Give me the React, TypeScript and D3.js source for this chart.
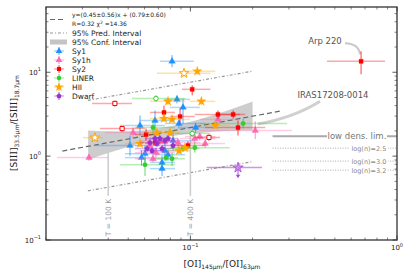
import * as d3 from "d3";

// [x, y, xlo, xhi, ylo, yhi, open]
type Pt = [number, number, number, number, number, number, number?];

const sy1: Pt[] = [
  [0.0815, 13.5, 0.0712, 0.104, 11.5, 16.0],
  [0.0861, 4.75, 0.0753, 0.0995, 4.25, 5.3],
  [0.0921, 3.81, 0.0796, 0.111, 2.4, 4.8],
  [0.0674, 2.66, 0.057, 0.0842, 2.02, 3.5],
  [0.057, 2.32, 0.0456, 0.0753, 1.76, 3.05],
  [0.088, 2.45, 0.0753, 0.118, 2.13, 2.75],
  [0.106, 2.19, 0.0891, 0.132, 1.9, 2.5],
  [0.051, 1.34, 0.0345, 0.0712, 1.01, 1.76],
  [0.0824, 1.53, 0.0674, 0.105, 1.16, 2.02],
  [0.0603, 1.07, 0.0482, 0.0712, 0.84, 1.34],
  [0.0753, 1.16, 0.0637, 0.0891, 0.88, 1.53],
  [0.0729, 0.84, 0.0637, 0.0842, 0.67, 1.01],
  [0.0779, 1.04, 0.0674, 0.0941, 0.88, 1.2],
  [0.058, 0.96, 0.0482, 0.0674, 0.77, 1.16],
  [0.0729, 0.71, 0.0637, 0.0842, 0.58, 0.84],
];

const sy1h: Pt[] = [
  [0.0323, 0.96, 0.0226, 0.0399, 0.88, 1.05],
  [0.0528, 1.91, 0.0386, 0.0712, 1.62, 2.2],
  [0.0637, 1.34, 0.0539, 0.0842, 1.16, 1.53],
  [0.0712, 1.53, 0.057, 0.0891, 1.34, 1.76],
  [0.0871, 1.45, 0.0712, 0.111, 1.26, 1.62],
  [0.105, 1.62, 0.0891, 0.132, 1.45, 1.85],
  [0.118, 1.41, 0.0995, 0.147, 1.26, 1.6],
  [0.0681, 1.1, 0.0539, 0.0842, 0.96, 1.26],
  [0.136, 2.74, 0.111, 0.174, 2.45, 3.1],
  [0.206, 2.02, 0.111, 0.31, 1.6, 2.6],
  [0.111, 1.71, 0.0941, 0.132, 1.53, 1.9],
  [0.0659, 0.93, 0.0539, 0.0796, 0.84, 1.04],
];

const sy2: Pt[] = [
  [0.67, 13.5, 0.458, 0.875, 9.46, 17.8],
  [0.102, 6.26, 0.091, 0.125, 5.3, 6.99],
  [0.0745, 3.32, 0.0637, 0.0842, 2.66, 4.0],
  [0.0891, 2.97, 0.0796, 0.105, 2.52, 3.7],
  [0.061, 1.81, 0.0539, 0.0712, 1.53, 2.13],
  [0.136, 3.14, 0.105, 0.174, 2.8, 3.5],
  [0.161, 3.14, 0.132, 0.184, 2.8, 3.5],
  [0.17, 2.19, 0.118, 0.23, 1.76, 2.66],
  [0.0973, 1.34, 0.0842, 0.118, 1.2, 1.5],
  [0.0431, 4.25, 0.0334, 0.0521, 3.9, 4.6, 1],
  [0.0467, 2.13, 0.0365, 0.0603, 1.95, 2.3, 1],
  [0.123, 1.67, 0.105, 0.139, 1.52, 1.82, 1],
  [0.0674, 1.45, 0.0603, 0.0779, 1.32, 1.58],
];

const liner: Pt[] = [
  [0.0681, 4.87, 0.0521, 0.0941, 4.45, 5.3, 1],
  [0.0659, 2.19, 0.0539, 0.0842, 1.76, 2.66],
  [0.102, 1.86, 0.0842, 0.125, 1.7, 2.03, 1],
  [0.105, 1.26, 0.0796, 0.155, 1.1, 1.45],
  [0.0921, 1.23, 0.0753, 0.111, 1.12, 1.35],
  [0.0815, 0.93, 0.0674, 0.0941, 0.77, 1.1],
  [0.0603, 0.79, 0.0456, 0.0842, 0.58, 0.96],
  [0.0762, 0.96, 0.0674, 0.0871, 0.87, 1.05],
  [0.18, 2.45, 0.111, 0.294, 2.13, 2.8],
];

const hii: Pt[] = [
  [0.0931, 9.73, 0.0689, 0.125, 8.9, 10.6, 1],
  [0.108, 10.3, 0.0941, 0.132, 9.4, 11.2],
  [0.0779, 4.5, 0.0637, 0.0941, 4.1, 4.9],
  [0.113, 4.5, 0.0995, 0.132, 4.1, 4.9],
  [0.0745, 2.81, 0.0637, 0.0891, 2.56, 3.08],
  [0.0815, 2.74, 0.0712, 0.0995, 2.5, 3.0],
  [0.0345, 1.66, 0.0302, 0.0377, 1.52, 1.82, 1],
  [0.0689, 1.91, 0.0603, 0.0796, 1.74, 2.09],
  [0.0796, 1.91, 0.0712, 0.0891, 1.74, 2.09],
  [0.0881, 1.16, 0.0779, 0.0995, 1.06, 1.27],
  [0.0941, 1.26, 0.0842, 0.105, 1.15, 1.38],
  [0.132, 2.32, 0.111, 0.155, 2.12, 2.54],
  [0.057, 1.41, 0.0482, 0.0674, 1.29, 1.54],
];

const dwarf: Pt[] = [
  [0.0753, 1.53, 0.0674, 0.0842, 1.4, 1.67],
  [0.0637, 1.45, 0.057, 0.0712, 1.32, 1.59],
  [0.0674, 1.62, 0.0603, 0.0753, 1.48, 1.77],
  [0.0779, 1.62, 0.0689, 0.0871, 1.48, 1.77],
  [0.0729, 1.23, 0.0637, 0.0815, 1.12, 1.35],
  [0.0652, 1.16, 0.057, 0.0729, 1.06, 1.27],
  [0.0712, 1.62, 0.0637, 0.0796, 1.48, 1.77],
  [0.0824, 1.34, 0.0729, 0.0921, 1.22, 1.47],
  [0.0617, 1.23, 0.0539, 0.0689, 1.12, 1.35],
  [0.0689, 1.41, 0.0603, 0.0779, 1.29, 1.54],
];
// upper limit
const dwarfLimit: Pt = [0.17, 0.73, 0.12, 0.222, 0.553, 0.73];

const classNames = ["Sy1", "Sy1h", "Sy2", "LINER", "HII", "Dwarf"];
const classColors = ["#1e90ff", "#ff69b4", "#ff0000", "#32cd32", "#ffa500", "#9932cc"];
const classData = [sy1, sy1h, sy2, liner, hii, dwarf];

// fit line (legend equation), prediction & confidence intervals
const fitLine: [number, number][] = [[0.024, 1.15], [0.277, 3.47]];
const predUpper: [number, number][] = [[0.0319, 4.62], [0.2, 10.3]];
const predLower: [number, number][] = [[0.0319, 0.386], [0.2, 0.86]];
const confX = [0.032, 0.045, 0.06, 0.08, 0.11, 0.15, 0.2];
const confLo = [0.91, 1.19, 1.48, 1.73, 1.89, 2.0, 2.02];
const confHi = [2.02, 1.97, 2.04, 2.27, 2.73, 3.47, 4.47];

const densLines = [
  { label: "log(n)=2.5", y: 1.245 },
  { label: "log(n)=3.0", y: 0.872 },
  { label: "log(n)=3.2", y: 0.681 },
];
const lowDensY = 1.73;
const tempLines = [
  { label: "T = 100 K", x: 0.04, top: 1.26 },
  { label: "T = 400 K", x: 0.1, top: 2.13 },
];

const xMajor = [0.1, 1];
const xMinor = [0.02, 0.03, 0.04, 0.05, 0.06, 0.07, 0.08, 0.09, 0.2, 0.3, 0.4, 0.5, 0.6, 0.7, 0.8, 0.9];
const yMajor = [0.1, 1, 10];
const yMinor = [0.2, 0.3, 0.4, 0.5, 0.6, 0.7, 0.8, 0.9, 2, 3, 4, 5, 6, 7, 8, 9, 20, 30, 40, 50];

const W = 411;
const H = 280;
const x = d3.scaleLog().domain([0.02, 1]).range([46, 397]);
const y = d3.scaleLog().domain([0.1, 60]).range([240, 7]);
const font = "DejaVu Sans, sans-serif";

function pentagon(r: number) {
  const pts = d3.range(5).map((i) => {
    const a = -Math.PI / 2 + (i * 2 * Math.PI) / 5;
    return [r * Math.cos(a), r * Math.sin(a)];
  });
  return "M" + pts.map((p) => p.join(",")).join("L") + "Z";
}

function markerPath(ci: number) {
  const sym = d3.symbol();
  if (ci === 0 || ci === 1) return sym.type(d3.symbolTriangle).size(19)()!;
  if (ci === 2) return sym.type(d3.symbolSquare).size(17)()!;
  if (ci === 3) return sym.type(d3.symbolCircle).size(16)()!;
  if (ci === 4) return sym.type(d3.symbolStar).size(28)()!;
  return pentagon(2.7);
}

function Point({ p, ci }: { p: Pt; ci: number }) {
  const c = classColors[ci];
  const px = x(p[0]);
  const py = y(p[1]);
  const open = p[6] === 1;
  return (
    <g>
      <line x1={x(p[2])} x2={x(p[3])} y1={py} y2={py} stroke={c} strokeOpacity={0.35} strokeWidth={1.5} />
      <line x1={px} x2={px} y1={y(p[4])} y2={y(p[5])} stroke={c} strokeOpacity={0.75} strokeWidth={1} />
      <path
        d={markerPath(ci)}
        transform={`translate(${px},${py})`}
        fill={open ? "white" : c}
        stroke={c}
        strokeWidth={open ? 1 : 0.3}
      />
    </g>
  );
}

function Pow({ x: tx, y: ty, exp, anchor }: { x: number; y: number; exp: string; anchor: string }) {
  return (
    <text x={tx} y={ty} fontSize={7} fill="#222" textAnchor={anchor} fontFamily={font}>
      10
      <tspan fontSize={5} dy={-3.5}>{exp}</tspan>
    </text>
  );
}

export default function App() {
  const line = d3
    .line<[number, number]>()
    .x((d) => x(d[0]))
    .y((d) => y(d[1]));
  const band = d3
    .area<number>()
    .x((_, i) => x(confX[i]))
    .y0((_, i) => y(confLo[i]))
    .y1((_, i) => y(confHi[i]))
    .curve(d3.curveMonotoneX);

  const legendRows = classNames.map((n, i) => ({ n, i, yy: 51 + i * 9 }));

  return (
    <svg width={W} height={H} style={{ position: "absolute", left: 0, top: 0, background: "white" }} fontFamily={font}>
      {/* confidence band */}
      <path d={band(confX)!} fill="#c4c4c4" opacity={0.85} />
      {/* prediction interval */}
      <path d={line(predUpper)!} fill="none" stroke="#999" strokeWidth={1.2} strokeDasharray="3,2,1,2" />
      <path d={line(predLower)!} fill="none" stroke="#999" strokeWidth={1.2} strokeDasharray="3,2,1,2" />
      {/* fit */}
      <path d={line(fitLine)!} fill="none" stroke="#666" strokeWidth={1.2} strokeDasharray="5,3" />

      {/* temperature lines */}
      {tempLines.map((t) => (
        <g key={t.label}>
          <line x1={x(t.x)} x2={x(t.x)} y1={y(t.top)} y2={y(0.336)} stroke="#ccc" strokeWidth={1.5} />
          <text
            transform={`translate(${x(t.x) + 2.5},${y(0.111)}) rotate(-90)`}
            fontSize={7.5}
            fill="#999"
          >
            {t.label}
          </text>
        </g>
      ))}

      {/* density lines */}
      <line x1={x(0.25)} x2={397} y1={y(lowDensY)} y2={y(lowDensY)} stroke="#aaa" strokeWidth={2} />
      <rect x={x(0.64) - 30} y={y(lowDensY) - 5} width={60} height={10} fill="white" />
      <text x={x(0.64)} y={y(lowDensY) + 3} fontSize={8.5} fill="#777" textAnchor="middle">
        low dens. lim.
      </text>
      {densLines.map((d) => (
        <g key={d.label}>
          <line x1={x(0.25)} x2={397} y1={y(d.y)} y2={y(d.y)} stroke="#aaa" strokeWidth={1} strokeDasharray="1,1.5" />
          <rect x={x(0.731) - 19} y={y(d.y) - 4} width={38} height={8} fill="white" />
          <text x={x(0.731)} y={y(d.y) + 2.5} fontSize={6.5} fill="#888" textAnchor="middle">
            {d.label}
          </text>
        </g>
      ))}

      {/* annotations */}
      <path
        d={`M${x(0.56)},${y(22.2)} Q${x(0.655)},${y(21.8)} ${x(0.662)},${y(16.4)}`}
        fill="none"
        stroke="#c8c8c8"
        strokeWidth={2}
      />
      <text x={x(0.448)} y={y(23.5) + 3} fontSize={8.5} fill="#555" textAnchor="middle">
        Arp 220
      </text>
      <path
        d={`M${x(0.424)},${y(4.52)} Q${x(0.321)},${y(2.92)} ${x(0.212)},${y(2.41)}`}
        fill="none"
        stroke="#d0d0d0"
        strokeWidth={3}
      />
      <text x={x(0.49)} y={y(5.33) + 3} fontSize={8.5} fill="#555" textAnchor="middle">
        IRAS17208-0014
      </text>

      {/* data */}
      {classData.map((arr, ci) => arr.map((p, k) => <Point key={`${ci}-${k}`} p={p} ci={ci} />))}
      <g>
        <line
          x1={x(dwarfLimit[2])}
          x2={x(dwarfLimit[3])}
          y1={y(dwarfLimit[1])}
          y2={y(dwarfLimit[1])}
          stroke={classColors[5]}
          strokeOpacity={0.5}
          strokeWidth={1.5}
        />
        <line
          x1={x(dwarfLimit[0])}
          x2={x(dwarfLimit[0])}
          y1={y(dwarfLimit[1])}
          y2={y(dwarfLimit[4])}
          stroke={classColors[5]}
          strokeOpacity={0.8}
          strokeWidth={1}
        />
        <path
          d={`M${x(dwarfLimit[0]) - 2.5},${y(dwarfLimit[4]) - 3} L${x(dwarfLimit[0]) + 2.5},${y(dwarfLimit[4]) - 3} L${x(dwarfLimit[0])},${y(dwarfLimit[4])} Z`}
          fill={classColors[5]}
          opacity={0.8}
        />
        <path
          d={d3.symbol().type(d3.symbolStar).size(34)()!}
          transform={`translate(${x(dwarfLimit[0])},${y(dwarfLimit[1])})`}
          fill="#c58be6"
          stroke={classColors[5]}
          strokeWidth={0.6}
        />
      </g>

      {/* legend */}
      <line x1={50} x2={66} y1={19.5} y2={19.5} stroke="#666" strokeWidth={1.2} strokeDasharray="5,3" />
      <text x={72} y={17} fontSize={6} fill="#222">
        y=(0.45±0.56)x + (0.79±0.60)
      </text>
      <text x={72} y={26} fontSize={6} fill="#222">
        R=0.32  χ<tspan fontSize={4.5} dy={-2.5}>2</tspan>
        <tspan dy={2.5}> =14.36</tspan>
      </text>
      <line x1={50} x2={67} y1={33} y2={33} stroke="#999" strokeWidth={1.2} strokeDasharray="3,2,1,2" />
      <text x={72} y={35.8} fontSize={7.5} fill="#222">
        95% Pred. Interval
      </text>
      <rect x={50} y={39.5} width={17} height={5} fill="#c4c4c4" />
      <text x={72} y={44.8} fontSize={7.5} fill="#222">
        95% Conf. Interval
      </text>
      {legendRows.map((r) => (
        <g key={r.n}>
          <line x1={54} x2={64} y1={r.yy} y2={r.yy} stroke={classColors[r.i]} strokeOpacity={0.35} strokeWidth={1.5} />
          <line x1={59} x2={59} y1={r.yy - 4} y2={r.yy + 4} stroke={classColors[r.i]} strokeOpacity={0.75} strokeWidth={1} />
          <path d={markerPath(r.i)} transform={`translate(59,${r.yy})`} fill={classColors[r.i]} />
          <text x={72} y={r.yy + 2.8} fontSize={7.5} fill="#222">
            {r.n}
          </text>
        </g>
      ))}

      {/* ticks */}
      {xMinor.map((t) => (
        <g key={`xm${t}`} stroke="#333" strokeWidth={0.6}>
          <line x1={x(t)} x2={x(t)} y1={240} y2={237.5} />
          <line x1={x(t)} x2={x(t)} y1={7} y2={9.5} />
        </g>
      ))}
      {xMajor.map((t) => (
        <g key={`xM${t}`} stroke="#333" strokeWidth={0.8}>
          <line x1={x(t)} x2={x(t)} y1={240} y2={235.5} />
          <line x1={x(t)} x2={x(t)} y1={7} y2={11.5} />
        </g>
      ))}
      {yMinor.map((t) => (
        <g key={`ym${t}`} stroke="#333" strokeWidth={0.6}>
          <line x1={46} x2={48.5} y1={y(t)} y2={y(t)} />
          <line x1={397} x2={394.5} y1={y(t)} y2={y(t)} />
        </g>
      ))}
      {yMajor.map((t) => (
        <g key={`yM${t}`} stroke="#333" strokeWidth={0.8}>
          <line x1={46} x2={50.5} y1={y(t)} y2={y(t)} />
          <line x1={397} x2={392.5} y1={y(t)} y2={y(t)} />
        </g>
      ))}
      <rect x={46} y={7} width={351} height={233} fill="none" stroke="#333" strokeWidth={1.3} />

      {/* tick labels */}
      <Pow x={x(0.1)} y={250} exp="−1" anchor="middle" />
      <Pow x={x(1)} y={250} exp="0" anchor="middle" />
      <Pow x={41} y={y(10) + 2.5} exp="1" anchor="end" />
      <Pow x={41} y={y(1) + 2.5} exp="0" anchor="end" />
      <Pow x={41} y={y(0.1) + 2.5} exp="−1" anchor="end" />

      {/* axis labels */}
      <text x={222} y={267} fontSize={9} fill="#222" textAnchor="middle">
        [O<tspan fontFamily="DejaVu Serif">I</tspan>]<tspan fontSize={6} dy={2}>145μm</tspan>
        <tspan dy={-2}>/[O</tspan>
        <tspan fontFamily="DejaVu Serif">I</tspan>]<tspan fontSize={6} dy={2}>63μm</tspan>
      </text>
      <text transform="translate(17,123) rotate(-90)" fontSize={9} fill="#222" textAnchor="middle">
        [S<tspan fontFamily="DejaVu Serif">III</tspan>]<tspan fontSize={6} dy={2}>33.5μm</tspan>
        <tspan dy={-2}>/[S</tspan>
        <tspan fontFamily="DejaVu Serif">III</tspan>]<tspan fontSize={6} dy={2}>18.7μm</tspan>
      </text>
    </svg>
  );
}
